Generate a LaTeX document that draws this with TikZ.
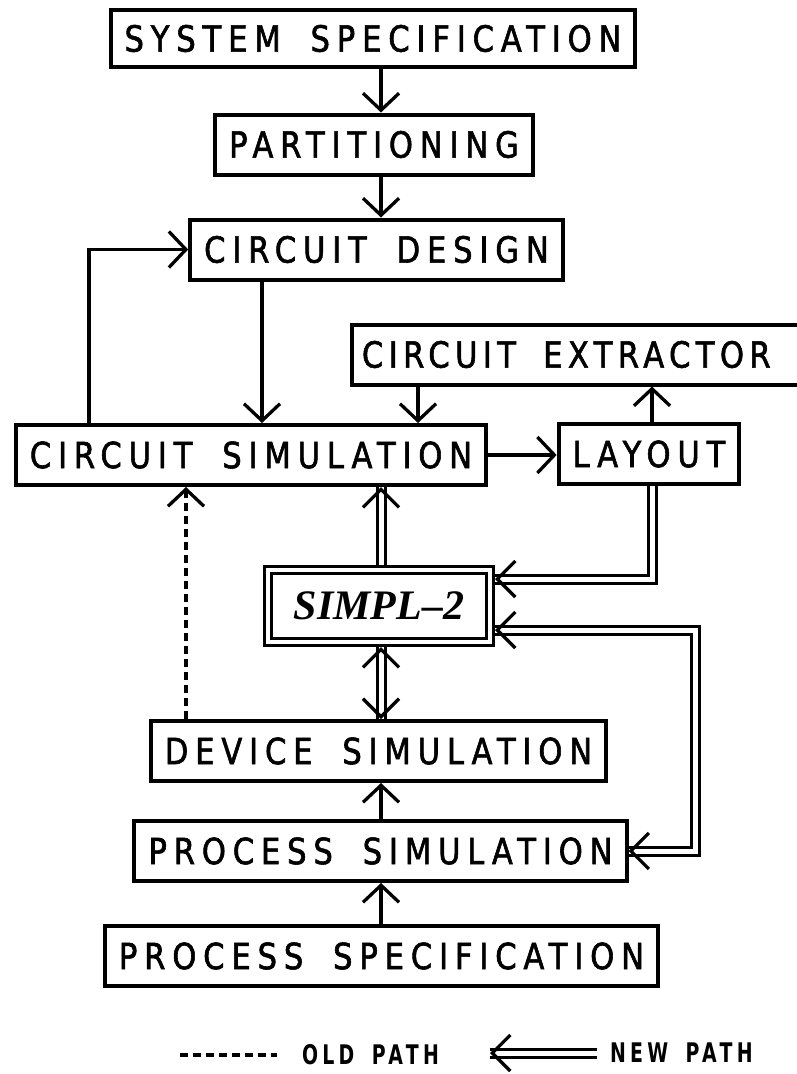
\documentclass[tikz,border=0pt]{standalone}
\usepackage{fontspec}
\usetikzlibrary{arrows.meta,calc,decorations.markings}
\newfontfamily\plotfont[FakeStretch=0.85,FakeBold=1.6,LetterSpace=19,WordSpace=1.8]{DejaVu Sans}
\newfontfamily\legfont[FakeStretch=0.7,LetterSpace=16,WordSpace=1.6]{DejaVu Sans}
\newfontfamily\simplfont{Liberation Serif}

\begin{document}
\begin{tikzpicture}[x=1pt,y=-1pt,
 blk/.style={draw,line width=4pt,minimum height=60pt,inner xsep=14pt,inner ysep=0pt,font=\plotfont\fontsize{36}{42}\selectfont},
 arr/.style={line width=3.3pt,-{Straight Barb[length=17pt,width=36pt]}},
 dbl/.style={line width=3pt,double,double distance=5pt},
 endtip/.style={postaction={decorate,decoration={markings,mark=at position 1 with {\arrow[line width=3.3pt]{Straight Barb[length=18pt,width=36pt]}}}}},
 starttip/.style={postaction={decorate,decoration={markings,mark=at position 0 with {\arrowreversed[line width=3.3pt]{Straight Barb[length=18pt,width=36pt]}}}}},
 old/.style={line width=3.3pt,dash pattern=on 8pt off 5pt},
 leg/.style={inner sep=0pt,outer sep=0pt,anchor=west,font=\legfont\bfseries\fontsize{27}{30}\selectfont}]
\useasboundingbox(0,0)rectangle(797,1074);
\node[blk,minimum height=57pt](sys)at(373,38.5){SYSTEM SPECIFICATION};
\node[blk](part)at(374,144.5){PARTITIONING};
\node[blk](cd)at(376.5,249.5){CIRCUIT DESIGN};
\node[blk,anchor=west,text width=470pt,align=left,inner xsep=10pt](ext)at(350,354.5){\addfontfeature{LetterSpace=15}\spaceskip=0pt\xspaceskip=0pt CIRCUIT EXTRACTOR};
\node[blk](csim)at(251,455){CIRCUIT SIMULATION};
\node[blk](layout)at(649,454){LAYOUT};
\node[draw,line width=3pt,double,double distance=4pt,outer sep=5pt,minimum width=222pt,minimum height=72pt,inner sep=0pt,font=\simplfont\bfseries\itshape\fontsize{42}{46}\selectfont](simpl)at(379,606){SIMPL–2};
\node[blk](dev)at(378.5,751){DEVICE SIMULATION};
\node[blk](psim)at(380.5,851){PROCESS SIMULATION};
\node[blk](pspec)at(381.5,956){PROCESS SPECIFICATION};
\coordinate(ax)at(381,0);\coordinate(lx)at(89,0);\coordinate(dx)at(262,0);\coordinate(ex)at(418,0);
\coordinate(lyx)at(652,0);\coordinate(ox)at(186,0);\coordinate(rx)at(695,0);
\coordinate(v1)at($(simpl.east)+(0,-27)$);\coordinate(v2)at($(simpl.east)+(0,24)$);
\draw[arr](sys.south-|ax)--(part.north-|ax);
\draw[arr](part.south-|ax)--(cd.north-|ax);
\draw[arr](csim.north-|lx)|-(cd.west);
\draw[arr](cd.south-|dx)--(csim.north-|dx);
\draw[arr](ext.south-|ex)--(csim.north-|ex);
\draw[arr](csim.east)--(csim.east-|layout.west);
\draw[arr](layout.north-|lyx)--(ext.south-|lyx);
\draw[old,-{Straight Barb[length=17pt,width=36pt]}](dev.north-|ox)--(csim.south-|ox);
\draw[dbl,endtip](simpl.north-|ax)--(csim.south-|ax);
\draw[dbl,endtip](layout.south-|lyx)|-(v1);
\draw[dbl,starttip,endtip](v2)-|(psim.east-|rx)--(psim.east);
\draw[dbl,starttip,endtip](simpl.south-|ax)--(dev.north-|ax);
\draw[arr](psim.north-|ax)--(dev.south-|ax);
\draw[arr](pspec.north-|ax)--(psim.south-|ax);
\node[leg](oldlbl)at(302,1055){OLD PATH};
\node[leg](newlbl)at(610,1053){NEW PATH};
\coordinate(olds)at(180,1055);\coordinate(newe)at(490,1053);
\draw[old](olds)--([xshift=-25pt]oldlbl.west);
\draw[dbl,endtip]([xshift=-13pt]newlbl.west)--(newe);
\end{tikzpicture}
\end{document}
